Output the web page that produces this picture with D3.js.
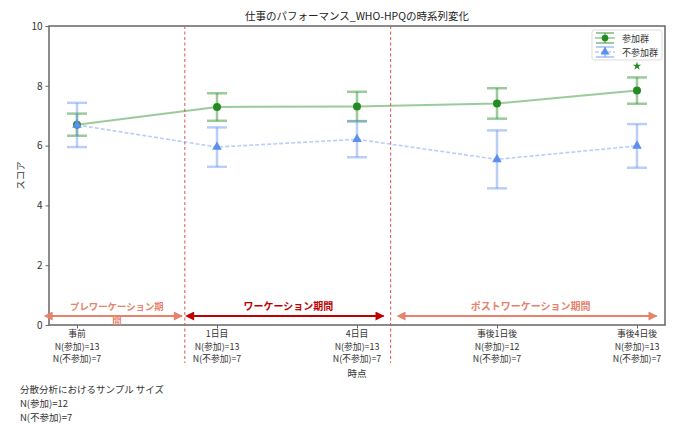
<!DOCTYPE html>
<html><head><meta charset="utf-8">
<script src="https://cdn.jsdelivr.net/npm/d3@7"></script>
<style>body{margin:0;background:#fff}svg{display:block}text{font-family:"Noto Sans CJK JP","Noto Sans",sans-serif}</style>
</head><body><svg id="c" width="700" height="435"></svg>
<script>
const categories = ["事前","1日目","4日目","事後1日後","事後4日後"];
const nPart = [13,13,13,12,13];
const nNon = [7,7,7,7,7];
const partMean = [6.70,7.29,7.31,7.41,7.84];
const partErr = [0.37,0.46,0.49,0.51,0.44];
const nonMean = [6.69,5.95,6.21,5.54,5.99];
const nonErr = [0.74,0.66,0.60,0.97,0.73];
const yTicks = [0,2,4,6,8,10];
const seriesNames = ["参加群","不参加群"];
const periodLabels = ["プレワーケーション期間","ワーケーション期間","ポストワーケーション期間"];
const periodStart = [-0.18,0.83,2.34];
const periodEnd = [0.75,2.19,4.14];
const dividers = [0.77,2.24];
const sigIndex = [4];

const svg = d3.select("#c");
const x = d3.scaleLinear().domain([-0.2,4.2]).range([49,665]);
const y = d3.scaleLinear().domain([0,10]).range([325,26]);
const green="#228b22", greenL="rgba(34,139,34,0.45)";
const blue="#5b8ff0", blueL="rgba(100,149,237,0.45)";
const salmon="#e8826c", dred="#c00000";
const txt="#333";

// frame
svg.append("rect").attr("x",x.range()[0]).attr("y",y.range()[1]).attr("width",x.range()[1]-x.range()[0]).attr("height",y.range()[0]-y.range()[1]).attr("fill","none").attr("stroke","#666").attr("stroke-width",1.5);

// y axis
const ya = svg.append("g").attr("transform",`translate(${x.range()[0]},0)`).call(d3.axisLeft(y).tickValues(yTicks).tickSize(3.5).tickFormat(d3.format("d")));
ya.select(".domain").remove();
ya.selectAll("line").attr("stroke","#666");
ya.selectAll("text").attr("font-size",10).attr("fill",txt);

// x axis
const xa = svg.append("g").attr("transform",`translate(0,${y.range()[0]})`).call(d3.axisBottom(x).tickValues(d3.range(categories.length)).tickSize(3.5).tickFormat(""));
xa.select(".domain").remove();
xa.selectAll("line").attr("stroke","#666");
categories.forEach((c,i)=>{
  const t = svg.append("text").attr("x",x(i)).attr("y",y(0)+12).attr("text-anchor","middle").attr("font-size",8.8).attr("fill",txt);
  [c,`N(参加)=${nPart[i]}`,`N(不参加)=${nNon[i]}`].forEach((s,k)=>t.append("tspan").attr("x",x(i)).attr("dy",k?12.5:0).text(s));
});

// dividers
dividers.forEach(d=>svg.append("line").attr("x1",x(d)).attr("x2",x(d)).attr("y1",y(10)).attr("y2",y(0)+38).attr("stroke","#d9534f").attr("stroke-opacity",0.9).attr("stroke-width",1.1).attr("stroke-dasharray","3,2.5"));

// period arrows
const pColors=[salmon,dred,salmon];
const defs=svg.append("defs");
pColors.forEach((c,i)=>{
  ["s","e"].forEach(k=>{
    defs.append("marker").attr("id",`m${i}${k}`).attr("viewBox","0 0 10 10").attr("refX",k==="e"?9:1).attr("refY",5).attr("markerWidth",5.5).attr("markerHeight",4.5).attr("orient","auto-start-reverse").attr("markerUnits","strokeWidth")
      .append("path").attr("d","M0,0L10,5L0,10z").attr("fill",c);
  });
});
const arrowY = y(0.3);
periodLabels.forEach((lab,i)=>{
  svg.append("line").attr("x1",x(periodStart[i])).attr("x2",x(periodEnd[i])).attr("y1",arrowY).attr("y2",arrowY).attr("stroke",pColors[i]).attr("stroke-width",2)
    .attr("marker-start",`url(#m${i}s)`).attr("marker-end",`url(#m${i}e)`);
  const cx=(x(periodStart[i])+x(periodEnd[i]))/2;
  const t=svg.append("text").attr("x",cx).attr("y",arrowY-6.5).attr("text-anchor","middle").attr("font-size",i===0?9.4:10).attr("font-weight","bold").attr("fill",pColors[i]);
  if(i===0){
    t.append("tspan").attr("x",cx).text(lab.slice(0,-1));
    t.append("tspan").attr("x",cx).attr("dy",14).text(lab.slice(-1));
  } else t.text(lab);
});

// series
function drawSeries(means,errs,col,colL,dash,sym){
  const g=svg.append("g");
  g.append("path").datum(means).attr("d",d3.line().x((d,i)=>x(i)).y(d=>y(d))).attr("fill","none").attr("stroke",colL).attr("stroke-width",dash?1.6:2).attr("stroke-dasharray",dash?"4,2":null);
  means.forEach((m,i)=>{
    const lo=y(m-errs[i]),hi=y(m+errs[i]);
    g.append("line").attr("x1",x(i)).attr("x2",x(i)).attr("y1",lo).attr("y2",hi).attr("stroke",colL).attr("stroke-width",2.5);
    [lo,hi].forEach(v=>g.append("line").attr("x1",x(i)-10).attr("x2",x(i)+10).attr("y1",v).attr("y2",v).attr("stroke",colL).attr("stroke-width",2.5));
  });
  g.selectAll(".pt").data(means).join("path").attr("transform",(d,i)=>`translate(${x(i)},${y(d)})`).attr("d",d3.symbol().type(sym).size(sym===d3.symbolCircle?50:40)).attr("fill",col);
}
drawSeries(partMean,partErr,green,greenL,false,d3.symbolCircle);
drawSeries(nonMean,nonErr,blue,blueL,true,d3.symbolTriangle);

// significance star
sigIndex.forEach(i=>svg.append("path").attr("transform",`translate(${x(i)},${y(partMean[i]+partErr[i]+0.38)})`).attr("d",d3.symbol().type(d3.symbolStar).size(22)).attr("fill",green));

// legend
const lg=svg.append("g").attr("transform","translate(592,30)");
lg.append("rect").attr("width",70).attr("height",30).attr("rx",2).attr("fill","#fff").attr("stroke","#ddd");
[[green,greenL,d3.symbolCircle,false],[blue,blueL,d3.symbolTriangle,true]].forEach((s,k)=>{
  const cy=8+k*14, cx=13;
  lg.append("line").attr("x1",3).attr("x2",23).attr("y1",cy).attr("y2",cy).attr("stroke",s[1]).attr("stroke-width",1.6).attr("stroke-dasharray",s[3]?"4,2":null);
  [cy-5,cy+5].forEach(v=>lg.append("line").attr("x1",4).attr("x2",22).attr("y1",v).attr("y2",v).attr("stroke",s[1]).attr("stroke-width",2));
  lg.append("line").attr("x1",cx).attr("x2",cx).attr("y1",cy-5).attr("y2",cy+5).attr("stroke",s[1]).attr("stroke-width",2);
  lg.append("path").attr("transform",`translate(${cx},${cy})`).attr("d",d3.symbol().type(s[2]).size(35)).attr("fill",s[0]);
  lg.append("text").attr("x",30).attr("y",cy+3.5).attr("font-size",9).attr("fill",txt).text(seriesNames[k]);
});

// title & labels
svg.append("text").attr("x",(x.range()[0]+x.range()[1])/2).attr("y",20).attr("text-anchor","middle").attr("font-size",10.5).attr("fill","#222").text("仕事のパフォーマンス_WHO-HPQの時系列変化");
svg.append("text").attr("transform",`translate(24,${(y.range()[0]+y.range()[1])/2}) rotate(-90)`).attr("text-anchor","middle").attr("font-size",9.5).attr("fill",txt).text("スコア");
svg.append("text").attr("x",(x.range()[0]+x.range()[1])/2).attr("y",377).attr("text-anchor","middle").attr("font-size",9.5).attr("fill",txt).text("時点");

// note
const note=svg.append("text").attr("x",20).attr("y",393).attr("font-size",9.5).attr("fill",txt);
["分散分析におけるサンプル サイズ","N(参加)=12","N(不参加)=7"].forEach((s,k)=>note.append("tspan").attr("x",20).attr("dy",k?13.8:0).text(s));
</script></body></html>
